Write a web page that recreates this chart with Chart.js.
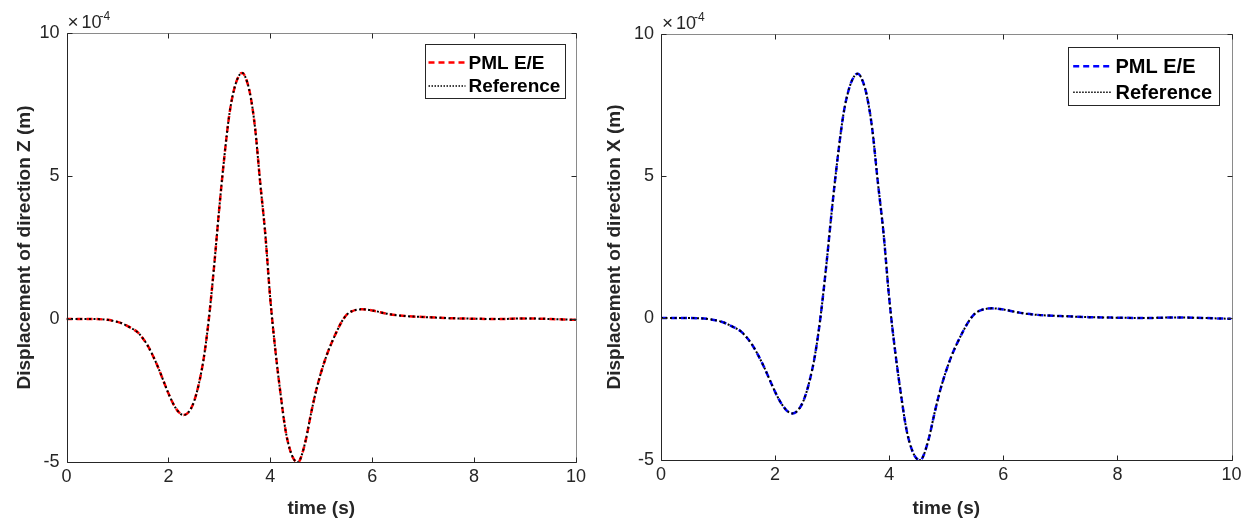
<!DOCTYPE html>
<html>
<head>
<meta charset="utf-8">
<title>PML E/E vs Reference</title>
<script src="https://cdn.jsdelivr.net/npm/chart.js"></script>
<style>
  body { margin: 0; background: #fff; }
  canvas { position: absolute; top: 0; }
  #chartZ { left: 0; }
  #chartX { left: 600px; }
</style>
</head>
<body>
<canvas id="chartZ" width="600" height="525"></canvas>
<canvas id="chartX" width="652" height="525"></canvas>
<script>
// time (s)
const timeS = [0, 0.5, 0.8, 1.0, 1.1, 1.2, 1.3, 1.4, 1.5, 1.6, 1.7, 1.8, 1.9, 2.0, 2.1, 2.2, 2.3, 2.4, 2.5, 2.6, 2.7, 2.8, 2.9,
  3.0, 3.1, 3.2, 3.3, 3.4, 3.45, 3.5, 3.6, 3.7, 3.8, 3.9, 4.0, 4.1, 4.2, 4.3, 4.4, 4.5, 4.55, 4.6,
  4.7, 4.8, 4.9, 5.0, 5.1, 5.2, 5.3, 5.4, 5.5, 5.6, 5.8, 6.0, 6.3, 6.6, 7.0, 7.5, 8.0, 8.5, 9.0, 9.5, 10];
// displacement, units of 1e-4 m
const dispZ = [0, 0, -0.03, -0.1, -0.16, -0.25, -0.35, -0.47, -0.68, -0.95, -1.3, -1.7, -2.15, -2.6, -2.98, -3.25, -3.36,
  -3.25, -2.9, -2.25, -1.3, 0.1, 1.9, 3.9, 5.7, 7.2, 8.1, 8.55, 8.6, 8.5, 7.9, 6.7, 4.8, 3.0, 0.7, -1.1, -2.6, -3.9,
  -4.65, -4.98, -5.0, -4.85, -4.2, -3.3, -2.5, -1.85, -1.3, -0.85, -0.45, -0.1, 0.15, 0.27, 0.34, 0.3, 0.18, 0.11,
  0.07, 0.03, 0.01, 0, 0.02, 0, -0.03];
const dispX = [0, 0, -0.03, -0.1, -0.16, -0.25, -0.35, -0.47, -0.68, -0.95, -1.3, -1.7, -2.15, -2.6, -2.98, -3.25, -3.36,
  -3.25, -2.9, -2.25, -1.3, 0.1, 1.9, 3.9, 5.7, 7.2, 8.1, 8.55, 8.6, 8.5, 7.9, 6.7, 4.8, 3.0, 0.7, -1.1, -2.6, -3.9,
  -4.65, -4.98, -5.0, -4.85, -4.2, -3.3, -2.5, -1.85, -1.3, -0.85, -0.45, -0.1, 0.15, 0.27, 0.34, 0.3, 0.18, 0.11,
  0.07, 0.03, 0.01, 0, 0.02, 0, -0.03];
const xTicks = [0, 2, 4, 6, 8, 10];
const yTicks = [-5, 0, 5, 10];
const seriesNames = ['PML E/E', 'Reference'];
const AXIS_COLOR = '#262626';

document.addEventListener('DOMContentLoaded', function() {
  initChart('chartZ', dispZ, '#ff0000', 'Displacement of direction Z (m)', {
    yW: 66.5, xH: 63, top: 33, right: 24, titlePad: 13,
    legend: { inset: 11, top: 11, w: 140, h: 54, row1: 18, row2: 41.5, s0: 3, s1: 40, tx: 43, font: 19 }
  });
  initChart('chartX', dispX, '#0000ff', 'Displacement of direction X (m)', {
    yW: 61, xH: 65, top: 34, right: 20.5, titlePad: 3,
    legend: { inset: 12.5, top: 13, w: 151, h: 58, row1: 18.7, row2: 44.7, s0: 4.7, s1: 43.7, tx: 47, font: 20 }
  });
});

// MATLAB-like frame, inward ticks, exponent label and boxed legend
const matlabAxes = {
  id: 'matlabAxes',
  afterDraw(chart, args, opts) {
    const ctx = chart.ctx;
    const a = chart.chartArea;
    const sx = chart.scales.x, sy = chart.scales.y;
    const L = Math.round(a.left) + 0.5, R = Math.round(a.right) + 0.5;
    const T = Math.round(a.top) + 0.5, B = Math.round(a.bottom) + 0.5;
    ctx.save();
    ctx.lineWidth = 1;
    ctx.strokeStyle = '#8a8a8a';
    ctx.beginPath();
    ctx.moveTo(L, T); ctx.lineTo(R, T); ctx.lineTo(R, B);
    ctx.stroke();
    ctx.strokeStyle = AXIS_COLOR;
    ctx.beginPath();
    ctx.moveTo(L, T); ctx.lineTo(L, B); ctx.lineTo(R, B);
    ctx.stroke();

    // inward ticks
    ctx.beginPath();
    xTicks.forEach(v => {
      const px = Math.round(sx.getPixelForValue(v)) + 0.5;
      ctx.moveTo(px, B); ctx.lineTo(px, B - 5);
      ctx.moveTo(px, T); ctx.lineTo(px, T + 5);
    });
    yTicks.forEach(v => {
      const py = Math.round(sy.getPixelForValue(v)) + 0.5;
      ctx.moveTo(L, py); ctx.lineTo(L + 5, py);
      ctx.moveTo(R, py); ctx.lineTo(R - 5, py);
    });
    ctx.stroke();

    // x10^-4
    ctx.fillStyle = AXIS_COLOR;
    ctx.textBaseline = 'alphabetic';
    ctx.textAlign = 'left';
    ctx.font = '19px "Liberation Sans", Arial, sans-serif';
    ctx.fillText('\u00d7', a.left + 1, a.top - 5);
    ctx.font = '18px "Liberation Sans", Arial, sans-serif';
    ctx.fillText('10', a.left + 15, a.top - 5);
    ctx.font = '12px "Liberation Sans", Arial, sans-serif';
    ctx.fillText('-4', a.left + 33, a.top - 13);

    // legend
    const lg = opts.legend;
    const bx = Math.round(a.right - lg.inset - lg.w) + 0.5;
    const by = Math.round(a.top + lg.top) + 0.5;
    ctx.fillStyle = '#fff';
    ctx.fillRect(bx, by, lg.w, lg.h);
    ctx.strokeStyle = AXIS_COLOR;
    ctx.strokeRect(bx, by, lg.w, lg.h);
    chart.data.datasets.forEach((ds, i) => {
      const y = by + (i === 0 ? lg.row1 : lg.row2);
      ctx.save();
      ctx.strokeStyle = ds.borderColor;
      ctx.lineWidth = i === 0 ? ds.borderWidth : 1.5;
      ctx.setLineDash(i === 0 ? ds.borderDash : [1.5, 1.5]);
      ctx.beginPath();
      ctx.moveTo(bx + lg.s0, y); ctx.lineTo(bx + lg.s1, y);
      ctx.stroke();
      ctx.restore();
      ctx.fillStyle = '#000';
      ctx.font = 'bold ' + lg.font + 'px "Liberation Sans", Arial, sans-serif';
      ctx.textBaseline = 'middle';
      ctx.fillText(ds.label, bx + lg.tx, y + 1);
    });
    ctx.restore();
  }
};

function initChart(id, values, color, yTitle, lay) {
  const ctx = document.getElementById(id).getContext('2d');
  const points = timeS.map((t, i) => ({ x: t, y: values[i] }));
  const tickFont = { family: '"Liberation Sans", Arial, sans-serif', size: 18 };
  const titleFont = { family: '"Liberation Sans", Arial, sans-serif', size: 19, weight: 'bold' };
  return new Chart(ctx, {
    type: 'line',
    data: {
      datasets: [{
        label: seriesNames[0],
        data: points,
        borderColor: color,
        borderWidth: 2.5,
        borderDash: [6, 4],
        pointRadius: 0,
        cubicInterpolationMode: 'monotone',
        order: 1
      }, {
        label: seriesNames[1],
        data: points,
        borderColor: '#000',
        borderWidth: 2,
        borderDash: [2, 2.5],
        pointRadius: 0,
        cubicInterpolationMode: 'monotone',
        order: 0
      }]
    },
    options: {
      responsive: false,
      animation: false,
      layout: { padding: { top: lay.top, right: lay.right, left: 0, bottom: 0 } },
      plugins: {
        legend: { display: false },
        tooltip: { enabled: false },
        matlabAxes: { legend: lay.legend }
      },
      scales: {
        x: {
          type: 'linear', min: 0, max: 10,
          grid: { display: false, drawTicks: false },
          border: { display: false },
          afterBuildTicks: s => { s.ticks = xTicks.map(v => ({ value: v })); },
          afterFit: s => { s.height = lay.xH; },
          ticks: { color: AXIS_COLOR, font: tickFont, padding: 4, maxRotation: 0 },
          title: { display: true, text: 'time (s)', color: AXIS_COLOR, font: titleFont, padding: { top: 0, bottom: 5 } }
        },
        y: {
          type: 'linear', min: -5, max: 10,
          grid: { display: false, drawTicks: false },
          border: { display: false },
          afterBuildTicks: s => { s.ticks = yTicks.map(v => ({ value: v })); },
          afterFit: s => { s.width = lay.yW; },
          ticks: { color: AXIS_COLOR, font: tickFont, padding: 7 },
          title: { display: true, text: yTitle, color: AXIS_COLOR, font: titleFont, padding: { top: lay.titlePad, bottom: 0 } }
        }
      }
    },
    plugins: [matlabAxes]
  });
}
</script>
</body>
</html>
